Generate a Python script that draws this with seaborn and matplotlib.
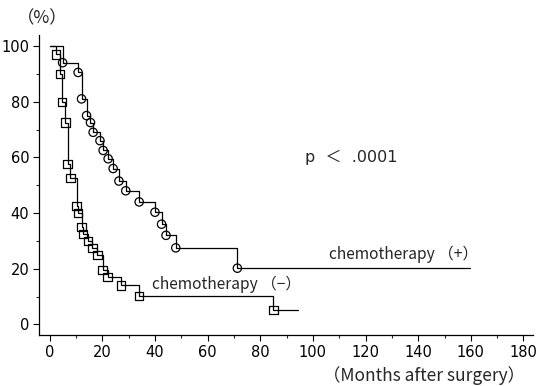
import matplotlib
matplotlib.use("Agg")
import matplotlib.pyplot as plt
from matplotlib.ticker import MultipleLocator
import seaborn as sns
import pandas as pd

# survival curves (months, %)
minus_months = [0, 2.4, 3.9, 4.7, 6.0, 6.8, 7.9, 10.2, 10.8, 12.1, 12.7,
                14.6, 16.2, 18.1, 20.1, 22.0, 27.0, 34.0, 85.0, 94.4]
minus_surv = [100, 97, 90, 80, 72.5, 57.5, 52.5, 42.5, 40, 35, 32.5,
              30, 27.5, 25, 19.5, 17, 14, 10.3, 5.2, 5.2]

plus_months = [0, 4.9, 10.8, 12.1, 14.0, 15.5, 16.5, 19.1, 20.3, 22.2, 24.1,
               26.3, 28.9, 34.0, 40.0, 42.5, 44.2, 47.9, 71.3, 159.5]
plus_surv = [100, 94, 90.5, 81, 75, 72.5, 69, 66, 62.5, 59.5, 56,
             51.5, 48, 44, 40.3, 36, 32, 27.5, 20.2, 20.2]

x_ticks = [0, 20, 40, 60, 80, 100, 120, 140, 160, 180]
y_ticks = [0, 20, 40, 60, 80, 100]

sns.set_style("ticks")
plt.rcParams["font.family"] = ["Noto Sans CJK JP", "DejaVu Sans"]

minus_df = pd.DataFrame({"month": minus_months, "surv": minus_surv})
plus_df = pd.DataFrame({"month": plus_months, "surv": plus_surv})

fig = plt.figure(figsize=(5.48, 3.86), dpi=100)
ax = fig.add_axes([0.071, 0.131, 0.902, 0.778])

for df, mk in [(minus_df, "s"), (plus_df, "o")]:
    sns.lineplot(data=df, x="month", y="surv", ax=ax, color="black",
                 linewidth=0.9, drawstyle="steps-post", estimator=None,
                 sort=False)
    # event marks (skip start and last follow-up point)
    ev = df.iloc[1:-1]
    sns.scatterplot(data=ev, x="month", y="surv", ax=ax, marker=mk, s=36,
                    facecolor="none", edgecolor="black", linewidth=0.9,
                    zorder=3)

ax.set_xlim(-4.1, 183.7)
ax.set_ylim(-3.95, 103.9)
ax.set_xticks(x_ticks)
ax.set_yticks(y_ticks)
ax.xaxis.set_minor_locator(MultipleLocator(10))
ax.yaxis.set_minor_locator(MultipleLocator(10))
ax.tick_params(which="major", length=4, width=0.8, labelsize=10.5,
               colors="black", pad=3, labelfontfamily="DejaVu Sans")
ax.tick_params(which="minor", length=2, width=0.8)
ax.set_xlabel("")
ax.set_ylabel("")
sns.despine(ax=ax)
for s in ["left", "bottom"]:
    ax.spines[s].set_linewidth(0.9)
    ax.spines[s].set_color("black")

ax.text(106, 25, "chemotherapy （+）", fontsize=11.2, va="center", ha="left")
ax.text(39, 14.5, "chemotherapy （−）", fontsize=11.2, va="center", ha="left")
ax.text(97, 60, "p  ＜  .0001", fontsize=11.5, va="center", ha="left",
        family=["DejaVu Sans", "Noto Sans CJK JP"])

fig.text(0.03, 0.953, "（%）", fontsize=12.5, ha="left", va="center")
fig.text(0.958, 0.028, "（Months after surgery）", fontsize=12.5,
         ha="right", va="center")

fig.savefig("out.png", dpi=100)
